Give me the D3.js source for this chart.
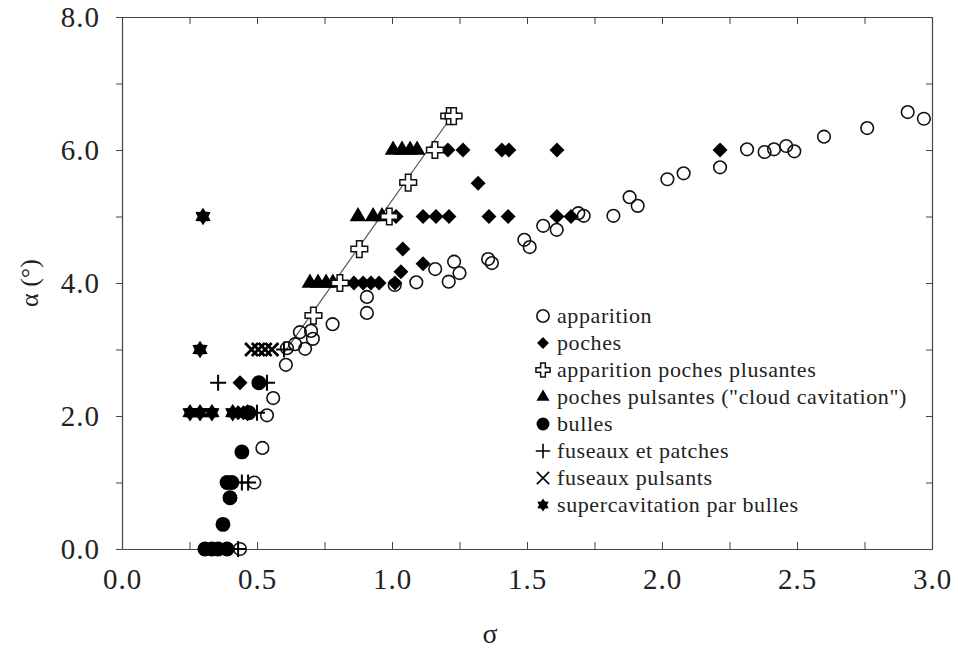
<!DOCTYPE html>
<html>
<head>
<meta charset="utf-8">
<script src="https://cdn.jsdelivr.net/npm/d3@7"></script>
<style>
  html, body { margin: 0; padding: 0; background: #fff; }
  svg { display: block; }
  text { font-family: "Liberation Serif", "Times New Roman", serif; fill: #222; }
</style>
</head>
<body>
<svg id="chart" width="958" height="655"></svg>
<script>
// ---- data: cavitation regimes, incidence alpha (deg) vs cavitation number sigma ----
const apparitionSigma = [0.437, 0.49, 0.52, 0.537, 0.56, 0.607, 0.611, 0.641, 0.659, 0.678, 0.70, 0.707, 0.78, 0.907, 0.907, 1.01, 1.09, 1.16, 1.21, 1.23, 1.25, 1.356, 1.37, 1.49, 1.51, 1.56, 1.61, 1.69, 1.71, 1.82, 1.88, 1.91, 2.02, 2.08, 2.215, 2.315, 2.38, 2.415, 2.46, 2.49, 2.60, 2.76, 2.91, 2.97];
const apparitionAlpha = [0.0, 1.0, 1.52, 2.01, 2.27, 2.77, 3.02, 3.08, 3.26, 3.01, 3.28, 3.16, 3.38, 3.79, 3.55, 3.97, 4.01, 4.21, 4.02, 4.32, 4.15, 4.36, 4.30, 4.65, 4.54, 4.86, 4.80, 5.05, 5.01, 5.01, 5.29, 5.16, 5.56, 5.65, 5.74, 6.01, 5.97, 6.01, 6.06, 5.98, 6.20, 6.33, 6.57, 6.47];

const pochesSigma = [1.207, 1.263, 1.407, 1.433, 1.611, 2.215, 1.319, 1.015, 1.115, 1.163, 1.211, 1.359, 1.43, 1.611, 1.663, 1.04, 1.115, 1.033, 0.859, 0.893, 0.922, 0.952, 1.011, 0.437, 0.43, 0.45];
const pochesAlpha = [6, 6, 6, 6, 6, 6, 5.5, 5, 5, 5, 5, 5, 5, 5, 5, 4.51, 4.29, 4.17, 4, 4, 4, 4, 4, 2.5, 2.05, 2.05];

const plusantesSigma = [0.709, 0.807, 0.879, 0.99, 1.06, 1.159, 1.212, 1.228];
const plusantesAlpha = [3.51, 4.0, 4.51, 5.0, 5.51, 6.0, 6.51, 6.51];

const pulsantesSigma = [1.004, 1.037, 1.067, 1.093, 0.874, 0.93, 0.963, 0.696, 0.726, 0.756, 0.781];
const pulsantesAlpha = [6, 6, 6, 6, 5, 5, 5, 4, 4, 4, 4];

const bullesSigma = [0.307, 0.333, 0.356, 0.389, 0.374, 0.40, 0.389, 0.407, 0.444, 0.507, 0.47];
const bullesAlpha = [0, 0, 0, 0, 0.37, 0.77, 1.0, 1.0, 1.46, 2.5, 2.05];

const fuseauxSigma = [0.356, 0.537, 0.50, 0.444, 0.467, 0.43, 0.60];
const fuseauxAlpha = [2.5, 2.5, 2.05, 1.0, 1.0, 0.0, 3.0];

const fuseauxPulsSigma = [0.48, 0.505, 0.53, 0.555];
const fuseauxPulsAlpha = [3, 3, 3, 3];

const superSigma = [0.30, 0.289, 0.252, 0.289, 0.333, 0.41, 0.465];
const superAlpha = [5, 3, 2.05, 2.05, 2.05, 2.05, 2.05];

// trend line through the "apparition poches pulsantes" points
const trendSigma = [0.60, 1.22];
const trendAlpha = [2.95, 6.50];

const xTicks = [0, 0.25, 0.5, 0.75, 1, 1.25, 1.5, 1.75, 2, 2.25, 2.5, 2.75, 3];
const yTicks = [0, 1, 2, 3, 4, 5, 6, 7, 8];

const legendLabels = [
  "apparition",
  "poches",
  "apparition poches plusantes",
  "poches pulsantes (\"cloud cavitation\")",
  "bulles",
  "fuseaux et patches",
  "fuseaux pulsants",
  "supercavitation par bulles"
];

// ---- layout ----
const svg = d3.select("#chart");
const x = d3.scaleLinear().domain([0, 3]).range([122, 932]);
const y = d3.scaleLinear().domain([0, 8]).range([549, 17]);

// six-pointed star symbol
const symbolStar6 = {
  draw(context, size) {
    const R = Math.sqrt(size) * 0.62, r = R * 0.62;
    for (let i = 0; i < 12; i++) {
      const a = Math.PI / 6 * i - Math.PI / 2;
      const rad = i % 2 === 0 ? R : r;
      const px = rad * Math.cos(a), py = rad * Math.sin(a);
      if (i === 0) context.moveTo(px, py); else context.lineTo(px, py);
    }
    context.closePath();
  }
};
// thin plus and X drawn as open line paths
const symbolPlusLine = {
  draw(context, size) {
    const r = Math.sqrt(size) / 2;
    context.moveTo(-r, 0); context.lineTo(r, 0);
    context.moveTo(0, -r); context.lineTo(0, r);
  }
};
const symbolXLine = {
  draw(context, size) {
    const r = Math.sqrt(size) / 2;
    context.moveTo(-r, -r); context.lineTo(r, r);
    context.moveTo(-r, r); context.lineTo(r, -r);
  }
};

const series = [
  { sx: apparitionSigma, sy: apparitionAlpha, type: d3.symbolCircle, size: 125, lsize: 120, fill: "none", stroke: "#111", sw: 1.6 },
  { sx: pochesSigma, sy: pochesAlpha, type: d3.symbolSquare, size: 112, lsize: 70, fill: "#000", stroke: "none", sw: 0, rot: 45 },
  { sx: plusantesSigma, sy: plusantesAlpha, type: d3.symbolCross, size: 155, lsize: 110, fill: "#fff", stroke: "#111", sw: 1.5 },
  { sx: pulsantesSigma, sy: pulsantesAlpha, type: d3.symbolTriangle, size: 120, lsize: 75, fill: "#000", stroke: "none", sw: 0 },
  { sx: bullesSigma, sy: bullesAlpha, type: d3.symbolCircle, size: 175, lsize: 130, fill: "#000", stroke: "none", sw: 0 },
  { sx: fuseauxSigma, sy: fuseauxAlpha, type: symbolPlusLine, size: 256, lsize: 210, fill: "none", stroke: "#000", sw: 2 },
  { sx: fuseauxPulsSigma, sy: fuseauxPulsAlpha, type: symbolXLine, size: 170, lsize: 150, fill: "none", stroke: "#000", sw: 2.8 },
  { sx: superSigma, sy: superAlpha, type: symbolStar6, size: 200, lsize: 110, fill: "#000", stroke: "none", sw: 0 }
];
series.forEach((s, i) => { s.label = legendLabels[i]; s.lsw = s.sw ? Math.min(s.sw, 1.6) : 0; });

// ---- axes (closed frame: ticks out on the left, in elsewhere) ----
const frameColor = "#444";
function styleAxis(g) {
  g.selectAll("path.domain").attr("stroke", frameColor).attr("stroke-width", 1.2);
  g.selectAll(".tick line").attr("stroke", frameColor).attr("stroke-width", 1);
  g.selectAll("text").attr("font-family", "Liberation Serif, serif").attr("font-size", 29)
    .attr("letter-spacing", 1).attr("fill", "#222");
}

svg.append("g").attr("transform", `translate(0,${y(0)})`)
  .call(d3.axisBottom(x).tickValues(xTicks).tickSizeInner(-7).tickSizeOuter(0).tickPadding(19)
    .tickFormat(d => (Math.abs(d * 2 - Math.round(d * 2)) < 1e-9 ? d3.format(".1f")(d) : "")))
  .call(styleAxis);

svg.append("g").attr("transform", `translate(0,${y(8)})`)
  .call(d3.axisTop(x).tickValues(xTicks).tickSizeInner(-7).tickSizeOuter(0).tickFormat(""))
  .call(styleAxis);

svg.append("g").attr("transform", `translate(${x(0)},0)`)
  .call(d3.axisLeft(y).tickValues(yTicks).tickSizeInner(6).tickSizeOuter(0).tickPadding(16)
    .tickFormat(d => (d % 2 === 0 ? d3.format(".1f")(d) : "")))
  .call(styleAxis);

svg.append("g").attr("transform", `translate(${x(3)},0)`)
  .call(d3.axisRight(y).tickValues(yTicks).tickSizeInner(-6).tickSizeOuter(0).tickFormat(""))
  .call(styleAxis);

// axis titles
svg.append("text").attr("x", (x(0) + x(3)) / 2 - 37).attr("y", 643)
  .attr("text-anchor", "middle").attr("font-size", 28).text("σ");
svg.append("text").attr("transform", `translate(38,${y(4.0)}) rotate(-90)`)
  .attr("text-anchor", "middle").attr("font-size", 26)
  .text("α (°)");

// ---- trend line ----
svg.append("path")
  .datum(d3.range(trendSigma.length))
  .attr("fill", "none").attr("stroke", "#555").attr("stroke-width", 1.2)
  .attr("d", d3.line().x(i => x(trendSigma[i])).y(i => y(trendAlpha[i])));

// ---- markers ----
const plotOrder = [0, 3, 1, 4, 5, 6, 7, 2];
plotOrder.forEach(k => {
  const s = series[k];
  const sym = d3.symbol().type(s.type).size(s.size);
  svg.append("g").selectAll("path")
    .data(d3.range(s.sx.length))
    .join("path")
    .attr("transform", i => `translate(${x(s.sx[i])},${y(s.sy[i])})` + (s.rot ? ` rotate(${s.rot})` : ""))
    .attr("d", sym)
    .attr("fill", s.fill)
    .attr("stroke", s.stroke)
    .attr("stroke-width", s.sw);
});

// ---- legend ----
const legend = svg.append("g").attr("transform", "translate(543,316)");
const rowH = 27;
series.forEach((s, i) => {
  const row = legend.append("g").attr("transform", `translate(0,${i * rowH})`);
  row.append("path")
    .attr("transform", s.rot ? `rotate(${s.rot})` : null)
    .attr("d", d3.symbol().type(s.type).size(s.lsize))
    .attr("fill", s.fill)
    .attr("stroke", s.stroke)
    .attr("stroke-width", s.lsw);
  row.append("text").attr("x", 14).attr("y", 0).attr("dy", "0.33em")
    .attr("font-size", 22).attr("letter-spacing", 0.6).text(s.label);
});
</script>
</body>
</html>
